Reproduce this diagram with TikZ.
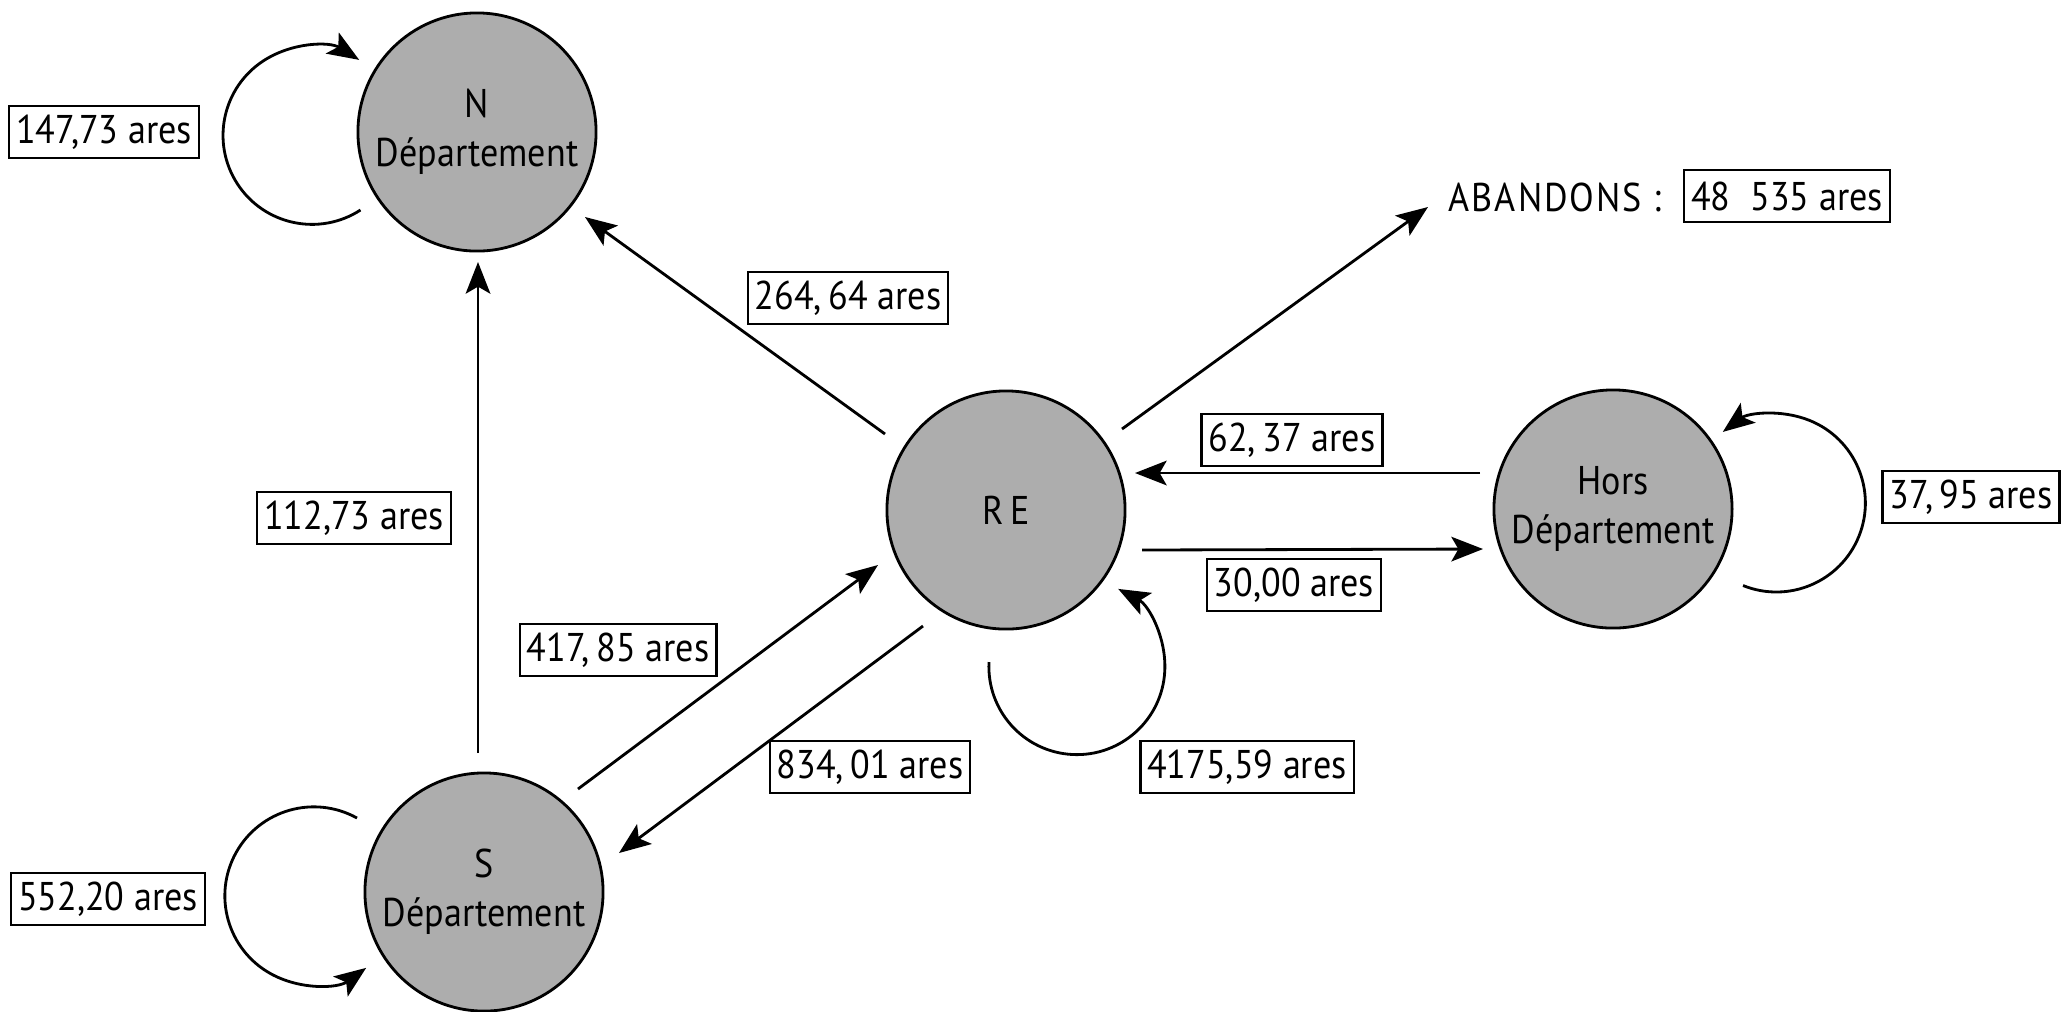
\documentclass[tikz,border=0pt]{standalone}
\usepackage{fontspec}
\setmainfont{PT Sans}[FakeStretch=0.9]
\usetikzlibrary{arrows.meta,calc}
\newcommand\lettering{\fontsize{11.4pt}{14pt}\selectfont}
\tikzset{
  place/.style={circle, draw, line width=0.8pt, fill=black!32, minimum size=2.38cm,
    inner sep=0pt, align=center, font=\lettering},
  qty/.style={draw, line width=0.7pt, minimum height=0.52cm, inner xsep=2pt,
    inner ysep=0pt, font=\lettering},
  arr/.style={line width=0.8pt, -{Stealth[length=9pt,width=7pt,inset=2pt]}},
  flow/.style={line width=0.8pt}
}
\begin{document}
\begin{tikzpicture}[x=0.01cm, y=-0.01cm]
\path[use as bounding box] (0,0) rectangle (2067,1011);

% places
\node[place] (N)  at (477,132)  {N\\Département};
\node[place] (S)  at (484,892)  {S\\Département};
\node[place] (RE) at (1006,510) {R\hspace{0.15em}E};
\node[place] (H)  at (1613,509) {Hors\\Département};

% quantities
\node[qty] (l147)  at (104,132)  {147,73 ares};
\node[qty] (l264)  at (848,298)  {264,\,64 ares};
\node[qty] (l112)  at (354,518)  {112,73 ares};
\node[qty] (l417)  at (618,650)  {417,\,85 ares};
\node[qty] (l834)  at (870,767)  {834,\,01 ares};
\node[qty] (l4175) at (1247,767) {4175,59 ares};
\node[qty] (l62)   at (1292,440) {62,\,37 ares};
\node[qty] (l30)   at (1294,585) {30,00 ares};
\node[qty] (l37)   at (1971,497) {37,\,95 ares};
\node[qty] (l552)  at (108,899)  {552,20 ares};
\node[anchor=west, inner sep=0pt, font=\lettering\addfontfeatures{LetterSpace=5}] (ab) at (1448,197) {ABANDONS :};
\node[qty] (l48)   at (1787,196) {48\hspace{0.5em}535 ares};

% flows between places
\draw[arr] ($(RE)+(-121,-76)$) -- ($(N)+(108,85)$);
\draw[arr] ($(S)+(-6,-139)$) -- ($(N)+(1,130)$);
\draw[arr] ($(RE)+(116,-81)$) -- ($(ab.west)+(-20,10)$);
\draw[arr] ($(H)+(-133,-36)$) -- ($(RE)+(129,-37)$);
\draw[arr] ($(RE)+(136,40)$) -- ($(H)+(-130,40)$);
\draw[arr] ($(S)+(94,-103)$) -- ($(RE)+(-128,55)$);
\draw[arr] ($(RE)+(-83,116)$) -- ($(S)+(135,-39)$);

% self loops
\draw[arr] ($(N)+(-116.5,78)$) arc[start angle=57, end angle=302, radius=89];
\draw[arr] ($(S)+(-127,-74)$) arc[start angle=299, end angle=54, radius=89];
\draw[arr] ($(RE)+(-17,152)$) arc[start angle=183, end angle=-62, radius=88];
\draw[arr] ($(H)+(130,76.5)$) arc[start angle=112, end angle=-127, radius=89];
\end{tikzpicture}
\end{document}
